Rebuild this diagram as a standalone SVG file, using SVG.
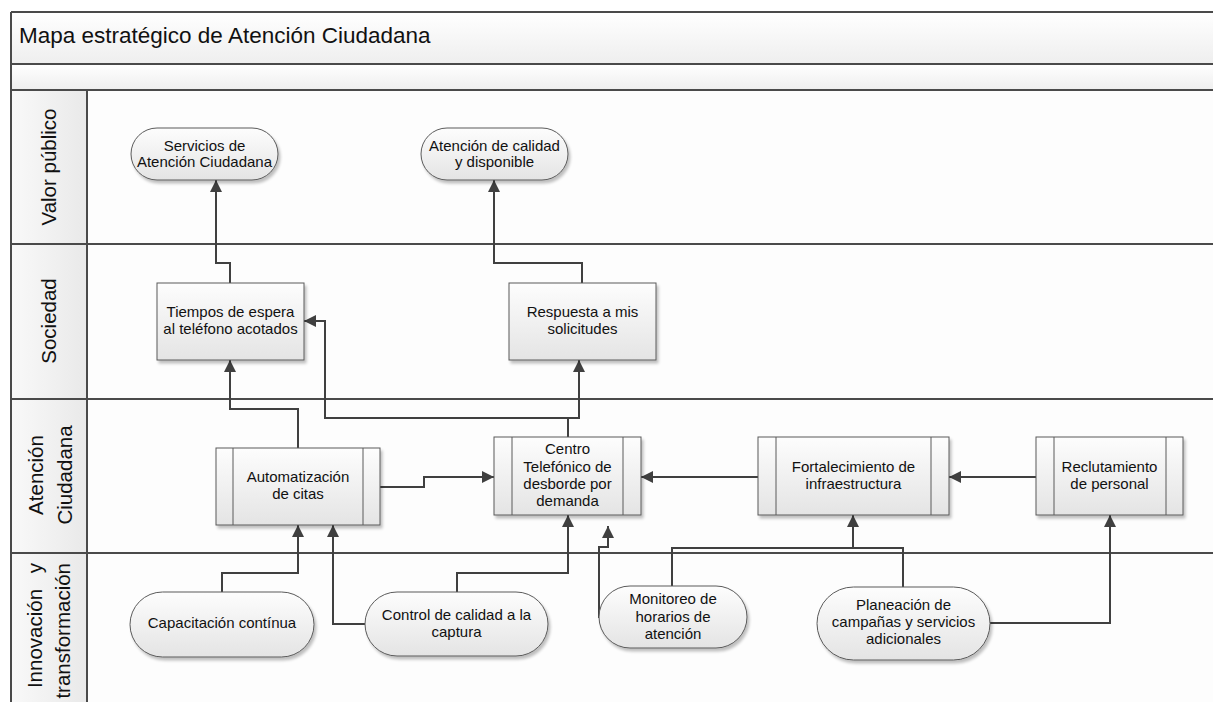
<svg xmlns="http://www.w3.org/2000/svg" width="1213" height="702" viewBox="0 0 1213 702">
  <style>
    .frame { fill: none; stroke: #4a4a4a; stroke-width: 2; }
    .sep { stroke: #4a4a4a; stroke-width: 2; fill: none; }
    .lane-label { font-family: "Liberation Sans", Arial, sans-serif; font-size: 20.5px; fill: #111; }
    .title { font-family: "Liberation Sans", Arial, sans-serif; font-size: 22.5px; fill: #111; }
    .node { fill: url(#nodeFill); stroke: #5a5a5a; stroke-width: 1; filter: url(#shadow); }
    .bar { stroke: #5a5a5a; stroke-width: 1; fill: none; }
    .label { font-family: "Liberation Sans", Arial, sans-serif; font-size: 15px; fill: #111; text-anchor: middle; }
    .conn { fill: none; stroke: #404040; stroke-width: 2; marker-end: url(#arrow); }
    .conn-plain { fill: none; stroke: #404040; stroke-width: 2; }
  </style>
  <defs>
    <linearGradient id="nodeFill" x1="0" y1="0" x2="0" y2="1">
      <stop offset="0" stop-color="#fdfdfd"/>
      <stop offset="1" stop-color="#e4e4e4"/>
    </linearGradient>
    <linearGradient id="bandFill" x1="0" y1="0" x2="0" y2="1">
      <stop offset="0" stop-color="#ffffff"/>
      <stop offset="1" stop-color="#eeeeee"/>
    </linearGradient>
    <linearGradient id="laneHeadFill" x1="0" y1="0" x2="1" y2="0">
      <stop offset="0" stop-color="#f9f9f9"/>
      <stop offset="1" stop-color="#e9e9e9"/>
    </linearGradient>
    <filter id="shadow" x="-10%" y="-10%" width="125%" height="130%">
      <feGaussianBlur in="SourceAlpha" stdDeviation="1.5"/>
      <feOffset dx="2" dy="3" result="off"/>
      <feComponentTransfer><feFuncA type="linear" slope="0.25"/></feComponentTransfer>
      <feMerge><feMergeNode/><feMergeNode in="SourceGraphic"/></feMerge>
    </filter>
    <marker id="arrow" viewBox="0 0 12 12" markerWidth="12" markerHeight="12" refX="12" refY="6" orient="auto" markerUnits="userSpaceOnUse">
      <path d="M0,0 L12,6 L0,12 z" fill="#404040"/>
    </marker>
  </defs>

  <!-- pool frame, title band and lanes -->
  <g id="pool">
    <rect x="0" y="0" width="1213" height="702" fill="#ffffff"/>
    <rect x="11" y="12" width="1210" height="52" fill="url(#bandFill)"/>
    <rect x="11" y="64" width="1210" height="26" fill="url(#bandFill)"/>
    <rect x="11" y="90" width="76" height="620" fill="url(#laneHeadFill)"/>
    <rect x="87" y="90" width="1130" height="620" fill="#fdfdfd"/>
    <path class="sep" d="M11,12 H1215 M11,64 H1215 M11,90 H1215 M11,244 H1215 M11,399 H1215 M11,553 H1215"/>
    <path class="sep" d="M11,12 V705 M87,90 V705"/>
    <text class="title" x="19" y="43">Mapa estratégico de Atención Ciudadana</text>
  </g>

  <g id="lane-valor">
    <text class="lane-label" text-anchor="middle" transform="translate(56,167) rotate(-90)">Valor público</text>
  </g>
  <g id="lane-sociedad">
    <text class="lane-label" text-anchor="middle" transform="translate(56,321) rotate(-90)">Sociedad</text>
  </g>
  <g id="lane-atencion">
    <text class="lane-label" text-anchor="middle" transform="translate(43,475) rotate(-90)">Atención</text>
    <text class="lane-label" text-anchor="middle" transform="translate(72,475) rotate(-90)">Ciudadana</text>
  </g>
  <g id="lane-innovacion">
    <text class="lane-label" text-anchor="end" word-spacing="10" transform="translate(42,563) rotate(-90)">Innovación y</text>
    <text class="lane-label" text-anchor="end" transform="translate(70,563) rotate(-90)">transformación</text>
  </g>

  <!-- connectors -->
  <g id="connectors">
    <path class="conn" d="M230,283 V263 H216 V180"/>
    <path class="conn" d="M582,283 V263 H494 V180"/>
    <path class="conn" d="M298,448 V409 H230 V360"/>
    <path class="conn" d="M568,437 V418 H325 V321 H304"/>
    <path class="conn" d="M568,437 V418 H579 V360"/>
    <path class="conn" d="M380,487 H424 V477 H494"/>
    <path class="conn" d="M758,477 H641"/>
    <path class="conn" d="M1036,477 H949"/>
    <path class="conn" d="M222,592 V573 H298 V525"/>
    <path class="conn" d="M365,624 H333 V525"/>
    <path class="conn" d="M457,592 V573 H568 V515"/>
    <path class="conn" d="M599,618 V547 H608 V526"/>
    <path class="conn" d="M672,586 V548 H853 V515"/>
    <path class="conn-plain" d="M903,587 V548 H853"/>
    <path class="conn" d="M990,623 H1110 V515"/>
  </g>

  <!-- Valor público -->
  <g id="servicios-atencion">
    <rect class="node" x="131" y="128" width="147" height="52" rx="26"/>
    <text class="label" x="204.5" y="151">Servicios de</text>
    <text class="label" x="204.5" y="167">Atención Ciudadana</text>
  </g>
  <g id="atencion-calidad">
    <rect class="node" x="421" y="128" width="147" height="52" rx="26"/>
    <text class="label" x="494.5" y="151">Atención de calidad</text>
    <text class="label" x="494.5" y="167">y disponible</text>
  </g>

  <!-- Sociedad -->
  <g id="tiempos-espera">
    <rect class="node" x="157" y="283" width="147" height="77"/>
    <text class="label" x="230.5" y="317">Tiempos de espera</text>
    <text class="label" x="230.5" y="334">al teléfono acotados</text>
  </g>
  <g id="respuesta-solicitudes">
    <rect class="node" x="509" y="283" width="147" height="77"/>
    <text class="label" x="582.5" y="317">Respuesta a mis</text>
    <text class="label" x="582.5" y="334">solicitudes</text>
  </g>

  <!-- Atención Ciudadana -->
  <g id="automatizacion-citas">
    <rect class="node" x="216" y="448" width="164" height="77"/>
    <path class="bar" d="M233,448 V525 M363,448 V525"/>
    <text class="label" x="298" y="482">Automatización</text>
    <text class="label" x="298" y="499">de citas</text>
  </g>
  <g id="centro-telefonico">
    <rect class="node" x="494" y="437" width="147" height="78"/>
    <path class="bar" d="M512,437 V515 M623,437 V515"/>
    <text class="label" x="567.5" y="454">Centro</text>
    <text class="label" x="567.5" y="472">Telefónico de</text>
    <text class="label" x="567.5" y="489">desborde por</text>
    <text class="label" x="567.5" y="506">demanda</text>
  </g>
  <g id="fortalecimiento-infraestructura">
    <rect class="node" x="758" y="437" width="191" height="78"/>
    <path class="bar" d="M776,437 V515 M931,437 V515"/>
    <text class="label" x="853.5" y="472">Fortalecimiento de</text>
    <text class="label" x="853.5" y="489">infraestructura</text>
  </g>
  <g id="reclutamiento-personal">
    <rect class="node" x="1036" y="437" width="147" height="78"/>
    <path class="bar" d="M1054,437 V515 M1166,437 V515"/>
    <text class="label" x="1109.5" y="472">Reclutamiento</text>
    <text class="label" x="1109.5" y="489">de personal</text>
  </g>

  <!-- Innovación y transformación -->
  <g id="capacitacion-continua">
    <rect class="node" x="130" y="592" width="184" height="65" rx="32.5"/>
    <text class="label" x="222" y="628">Capacitación contínua</text>
  </g>
  <g id="control-calidad">
    <rect class="node" x="365" y="592" width="183" height="64" rx="32"/>
    <text class="label" x="456.5" y="620">Control de calidad a la</text>
    <text class="label" x="456.5" y="637">captura</text>
  </g>
  <g id="monitoreo-horarios">
    <rect class="node" x="599" y="586" width="148" height="62" rx="31"/>
    <text class="label" x="673" y="604">Monitoreo de</text>
    <text class="label" x="673" y="622">horarios de</text>
    <text class="label" x="673" y="639">atención</text>
  </g>
  <g id="planeacion-campanas">
    <rect class="node" x="817" y="587" width="173" height="73" rx="36.5"/>
    <text class="label" x="903.5" y="610">Planeación de</text>
    <text class="label" x="903.5" y="627">campañas y servicios</text>
    <text class="label" x="903.5" y="644">adicionales</text>
  </g>
</svg>
